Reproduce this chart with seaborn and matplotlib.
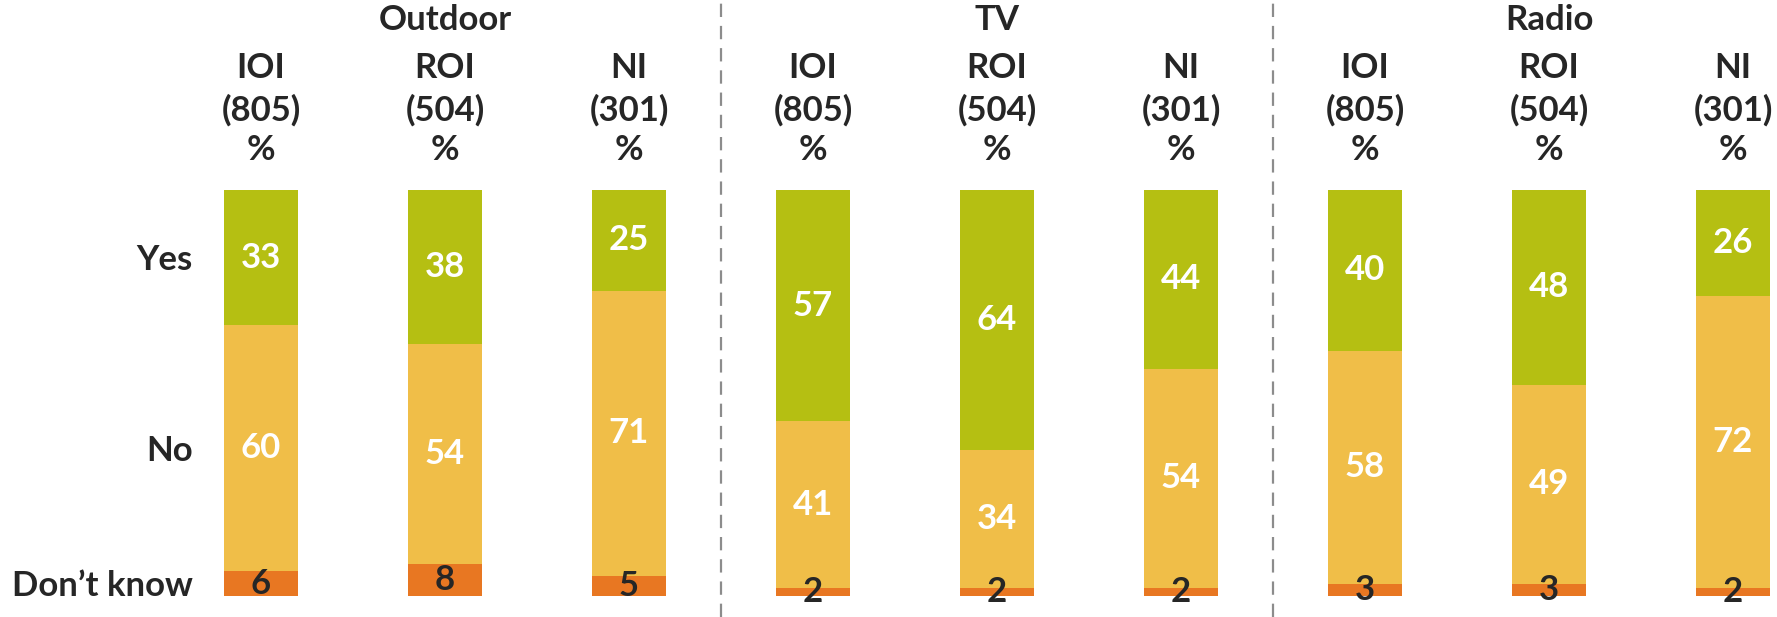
import matplotlib
matplotlib.use('Agg')
import numpy as np
import pandas as pd
import matplotlib.pyplot as plt
import seaborn as sns

# ===== DATA =====
MEDIA = ['Outdoor', 'TV', 'Radio']
REGIONS = ['IOI', 'ROI', 'NI']
BASES = ['(805)', '(504)', '(301)']
ANSWERS = ['Yes', 'No', 'Don\u2019t know']

yes_pct = [33, 38, 25, 57, 64, 44, 40, 48, 26]
no_pct = [60, 54, 71, 41, 34, 54, 58, 49, 72]
dk_pct = [6, 8, 5, 2, 2, 2, 3, 3, 2]

# ===== STYLE =====
GREEN = '#B5BF12'
YELLOW = '#F0BE48'
ORANGE = '#E87722'
DARK = '#262626'
FS = 25

sns.set_style('white')
plt.rcParams['font.family'] = ['Lato', 'DejaVu Sans']
plt.rcParams['font.weight'] = 'bold'

# 100% stacked: normalise each column, stack DK -> No -> Yes from the bottom
df = pd.DataFrame({'col': range(len(yes_pct)), 'yes': yes_pct, 'no': no_pct, 'dk': dk_pct})
total = df[['yes', 'no', 'dk']].sum(axis=1)
for k in ['yes', 'no', 'dk']:
    df[k + '_n'] = df[k] / total * 100
df['dk_top'] = df['dk_n']
df['no_top'] = df['dk_top'] + df['no_n']
df['yes_top'] = df['no_top'] + df['yes_n']

fig = plt.figure(figsize=(17.77, 6.17), dpi=100)
ax = fig.add_axes([0, 0, 1, 1])

# layered bars (tallest first)
for col, color in [('yes_top', GREEN), ('no_top', YELLOW), ('dk_top', ORANGE)]:
    sns.barplot(data=df, x='col', y=col, color=color, width=0.4,
                saturation=1, errorbar=None, linewidth=0, ax=ax)

# axis limits chosen so the layout fills the canvas like the original
ax.set_xlim(-1.418, 8.239)
ax.set_ylim(-5.17, 146.8)
ax.axis('off')

# segment labels
for i, r in df.iterrows():
    ax.text(i, r['no_top'] + r['yes_n'] / 2, f"{r['yes']:.0f}", ha='center', va='center',
            color='white', fontsize=FS, fontweight='bold')
    ax.text(i, r['dk_top'] + r['no_n'] / 2, f"{r['no']:.0f}", ha='center', va='center',
            color='white', fontsize=FS, fontweight='bold')
    ax.text(i, r['dk_n'] / 2, f"{r['dk']:.0f}", ha='center', va='center',
            color=DARK, fontsize=FS, fontweight='bold')

# column headers
for g, medium in enumerate(MEDIA):
    ax.text(g * 3 + 1, 141.9, medium, ha='center', va='center', color=DARK,
            fontsize=FS, fontweight='bold')
    for j, (reg, base) in enumerate(zip(REGIONS, BASES)):
        x = g * 3 + j
        ax.text(x, 130.0, reg, ha='center', va='center', color=DARK, fontsize=FS, fontweight='bold')
        ax.text(x, 119.7, base, ha='center', va='center', color=DARK, fontsize=FS, fontweight='bold')
        ax.text(x, 109.9, '%', ha='center', va='center', color=DARK, fontsize=FS, fontweight='bold')

# row labels aligned with the first column's segments
first = df.iloc[0]
row_y = [first['no_top'] + first['yes_n'] / 2,
         first['dk_top'] + first['no_n'] / 2,
         first['dk_n'] / 2]
for label, y in zip(ANSWERS, row_y):
    ax.text(-0.37, y - 0.6, label, ha='right', va='center', color=DARK, fontsize=FS, fontweight='bold')

# group separators
for xs in [2.5, 5.5]:
    ax.axvline(xs, color='#8C8C8C', linewidth=1.6, linestyle=(0, (6, 4)))

fig.savefig('out.png', dpi=100)
